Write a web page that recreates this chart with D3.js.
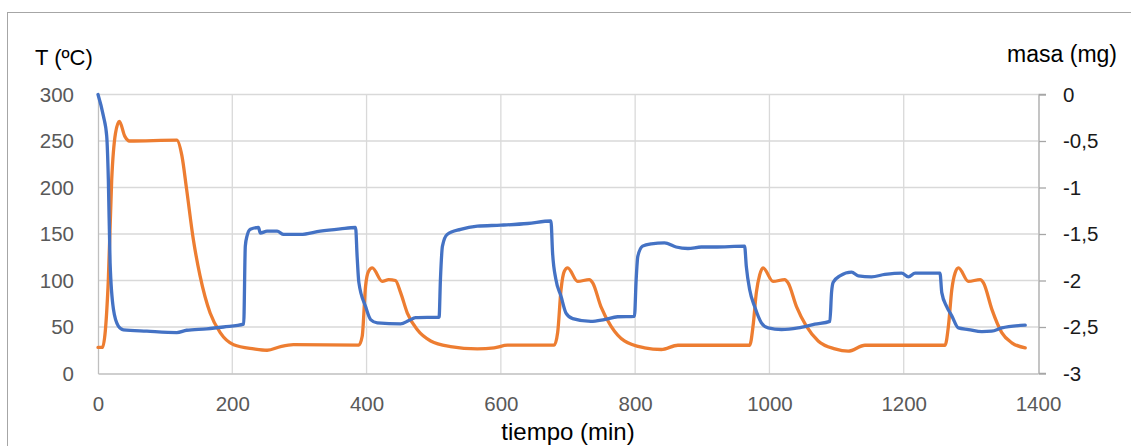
<!DOCTYPE html>
<html>
<head>
<meta charset="utf-8">
<script src="https://cdn.jsdelivr.net/npm/d3@7"></script>
<style>
  html, body { margin: 0; padding: 0; background: #fff; }
  svg { display: block; font-family: "Liberation Sans", Arial, sans-serif; }
</style>
</head>
<body>
<svg id="chart" width="1131" height="446"></svg>
<script>
// Temperature programme (left axis, ºC)
const timeT = [0, 6.5, 15.4, 20.4, 26, 31.8, 40, 46.8, 117.4, 125, 132, 142, 152, 167, 182, 202, 232, 252, 272, 291, 388.5,
  393.5, 398.5, 403, 408.5, 423.4, 433, 443, 450.7, 460.7, 475.6, 495.5, 525, 565, 590, 610, 679.5,
  684.6, 689.6, 694.5, 699.5, 714.4, 731.8, 736.8, 749, 764, 784, 814, 839, 863.7, 970.6,
  975.6, 980.5, 985.5, 990.5, 1005.4, 1022.8, 1027.8, 1040.3, 1055, 1072.6, 1097.5, 1117.4, 1142.3, 1261.6,
  1266.6, 1271.6, 1276.5, 1281.5, 1296.4, 1313.8, 1318.8, 1331.3, 1346, 1361, 1381];
const tempC = [28, 28, 101, 208, 258, 271, 255, 250, 251, 234, 198, 144, 105, 65, 44, 31, 26.5, 25, 29, 31, 30.5,
  40, 94, 110, 113.6, 99, 101, 100, 87, 65, 47, 35, 29, 26.5, 27.6, 30.5, 30.5,
  44, 90, 110, 113.6, 99, 101, 97.5, 72, 51, 35, 27.6, 25.8, 30.4, 30.4,
  51, 87, 106, 113.6, 99, 101, 97.5, 72, 51, 35, 26.5, 24, 30.4, 30.4,
  51, 90, 108, 113.6, 99, 101, 97.5, 69, 44, 33, 27.6];

// Sample mass change (right axis, mg)
const timeM = [0, 8, 13, 15.4, 18, 23, 30.3, 37.8, 72.7, 117.4, 132, 162, 187, 217,
  219.4, 222, 226.9, 239, 241.8, 251.8, 266.7, 276.6, 301.5, 331, 361, 383.6,
  386, 388.5, 398.5, 406, 416, 450.7, 463, 473, 508,
  510, 513, 520, 540, 565, 600, 640, 674.6,
  677, 682, 689.6, 697, 707, 734, 754, 774, 799,
  801.5, 804, 811, 824, 843.7, 861, 878.6, 898.5, 918, 963,
  965.6, 970.6, 978, 988, 998, 1018, 1042.7, 1067.6, 1090,
  1092.5, 1095, 1105, 1122.4, 1132.3, 1152, 1172, 1197, 1207, 1217, 1254,
  1256.7, 1264, 1271.6, 1281.5, 1296.4, 1316.4, 1331, 1346, 1381];
const massMg = [0, -0.23, -0.45, -0.91, -1.81, -2.31, -2.49, -2.53, -2.545, -2.56, -2.535, -2.52, -2.50, -2.47,
  -1.63, -1.52, -1.45, -1.43, -1.49, -1.47, -1.47, -1.505, -1.505, -1.47, -1.445, -1.43,
  -1.75, -2.02, -2.28, -2.42, -2.455, -2.466, -2.43, -2.40, -2.395,
  -1.99, -1.63, -1.505, -1.45, -1.416, -1.405, -1.387, -1.36,
  -1.70, -1.99, -2.17, -2.35, -2.41, -2.44, -2.42, -2.39, -2.385,
  -1.99, -1.74, -1.63, -1.605, -1.595, -1.64, -1.656, -1.64, -1.64, -1.63,
  -1.85, -2.10, -2.28, -2.455, -2.51, -2.527, -2.51, -2.47, -2.44,
  -2.13, -2.02, -1.95, -1.91, -1.95, -1.96, -1.935, -1.92, -1.96, -1.92, -1.92,
  -2.13, -2.28, -2.38, -2.51, -2.527, -2.55, -2.545, -2.51, -2.48];

// Axis ticks
const timeTicks = [0, 200, 400, 600, 800, 1000, 1200, 1400];
const tempTicks = [0, 50, 100, 150, 200, 250, 300];
const massTicks = [0, -0.5, -1, -1.5, -2, -2.5, -3];

const svg = d3.select("#chart");
const plot = { left: 98, right: 1038, top: 94.5, bottom: 373.5 };

const x = d3.scaleLinear().domain([0, 1400]).range([plot.left, plot.right]);
const yT = d3.scaleLinear().domain([0, 300]).range([plot.bottom, plot.top]);
const yM = d3.scaleLinear().domain([-3, 0]).range([plot.bottom, plot.top]);

const fmtComma = d => String(d).replace(".", ",");
const fmtPlain = d => String(d);

// Outer chart frame
svg.append("rect")
  .attr("x", 7.5).attr("y", 12.5)
  .attr("width", 1200).attr("height", 500)
  .attr("fill", "none").attr("stroke", "#A6A6A6").attr("stroke-width", 1);

// Gridlines
const grid = svg.append("g").attr("stroke", "#D9D9D9").attr("stroke-width", 1.3);
grid.selectAll("line.h").data(tempTicks.filter(d => d > 0)).join("line")
  .attr("x1", plot.left).attr("x2", plot.right)
  .attr("y1", d => yT(d)).attr("y2", d => yT(d));
grid.selectAll("line.v").data(timeTicks.filter(d => d > 0 && d < 1400)).join("line")
  .attr("x1", d => x(d)).attr("x2", d => x(d))
  .attr("y1", plot.top).attr("y2", plot.bottom);

// Left axis (temperature)
const axL = svg.append("g").attr("transform", `translate(${plot.left},0)`)
  .call(d3.axisLeft(yT).tickValues(tempTicks).tickSize(0).tickPadding(24).tickFormat(fmtPlain));
axL.select(".domain").attr("stroke", "#BFBFBF").attr("stroke-width", 1.3);
axL.selectAll("text").attr("fill", "#595959").attr("font-size", 20.5)
  .attr("font-family", "Liberation Sans, Arial, sans-serif");

// Bottom axis (time)
const axB = svg.append("g").attr("transform", `translate(0,${plot.bottom})`)
  .call(d3.axisBottom(x).tickValues(timeTicks).tickSize(0).tickPadding(23).tickFormat(fmtPlain));
axB.select(".domain").attr("stroke", "#BFBFBF").attr("stroke-width", 1.3);
axB.selectAll("text").attr("fill", "#595959").attr("font-size", 20.5)
  .attr("font-family", "Liberation Sans, Arial, sans-serif");

// Right axis (mass)
const axR = svg.append("g").attr("transform", `translate(${plot.right + 1},0)`)
  .call(d3.axisRight(yM).tickValues(massTicks).tickSize(7).tickPadding(17).tickFormat(fmtComma));
axR.selectAll(".domain, line").attr("stroke", "#A6A6A6").attr("stroke-width", 1.3);
axR.select(".domain").attr("d", `M7,${plot.top}H0V${plot.bottom}H7`);
axR.selectAll("text").attr("fill", "#1a1a1a").attr("font-size", 20.5)
  .attr("font-family", "Liberation Sans, Arial, sans-serif");

// Series lines
const lineT = d3.line().x(d => x(d[0])).y(d => yT(d[1])).curve(d3.curveMonotoneX);
const lineM = d3.line().x(d => x(d[0])).y(d => yM(d[1])).curve(d3.curveMonotoneX);

svg.append("path")
  .datum(d3.zip(timeT, tempC))
  .attr("d", lineT)
  .attr("fill", "none").attr("stroke", "#ED7D31").attr("stroke-width", 3.3)
  .attr("stroke-linejoin", "round").attr("stroke-linecap", "round");

svg.append("path")
  .datum(d3.zip(timeM, massMg))
  .attr("d", lineM)
  .attr("fill", "none").attr("stroke", "#4472C4").attr("stroke-width", 3.3)
  .attr("stroke-linejoin", "round").attr("stroke-linecap", "round");

// Axis titles
svg.append("text").attr("x", 35).attr("y", 65)
  .attr("font-size", 22).attr("fill", "#000").text("T (ºC)");
svg.append("text").attr("x", 1117).attr("y", 62).attr("text-anchor", "end")
  .attr("font-size", 23).attr("fill", "#000").text("masa (mg)");
svg.append("text").attr("x", 568).attr("y", 440).attr("text-anchor", "middle")
  .attr("font-size", 24).attr("fill", "#000").text("tiempo (min)");
</script>
</body>
</html>
